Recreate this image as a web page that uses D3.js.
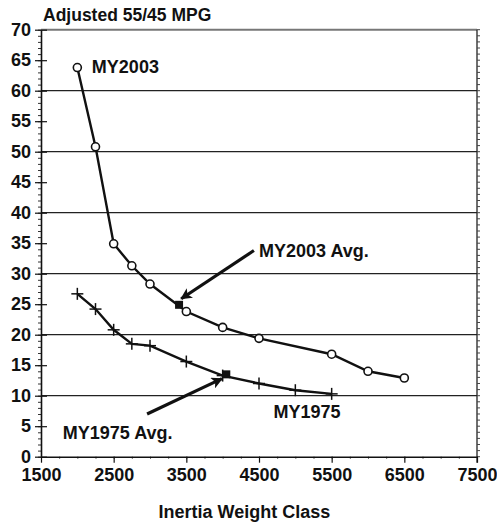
<!DOCTYPE html>
<html>
<head>
<meta charset="utf-8">
<script src="https://cdn.jsdelivr.net/npm/d3@7"></script>
<style>
  body { margin: 0; background: #fff; }
  text { font-family: "Liberation Sans", Arial, sans-serif; font-weight: bold; fill: #111; }
</style>
</head>
<body>
<div class="chart"></div>
<script>
// data
var weights2003 = [2000, 2250, 2500, 2750, 3000, 3500, 4000, 4500, 5500, 6000, 6500];
var mpg2003 = [63.8, 50.8, 34.9, 31.3, 28.3, 23.8, 21.2, 19.4, 16.8, 14.0, 12.9];
var weights1975 = [2000, 2250, 2500, 2750, 3000, 3500, 4000, 4500, 5000, 5500];
var mpg1975 = [26.7, 24.2, 20.8, 18.5, 18.2, 15.6, 13.3, 12.0, 10.9, 10.3];
var avg2003 = [3400, 24.9];
var avg1975 = [4050, 13.5];
var xTicks = [1500, 2500, 3500, 4500, 5500, 6500, 7500];
var yTicks = [0, 5, 10, 15, 20, 25, 30, 35, 40, 45, 50, 55, 60, 65, 70];
var gridValues = [10, 20, 30, 40, 50, 60];

var margin = {top: 29.7, right: 20, bottom: 66.3, left: 41},
    width = 497 - margin.left - margin.right,
    height = 523 - margin.top - margin.bottom;

var x = d3.scaleLinear().domain([1500, 7500]).range([0, width]);
var y = d3.scaleLinear().domain([0, 70]).range([height, 0]);

var svg = d3.select(".chart").append("svg")
    .attr("width", 497)
    .attr("height", 523)
    .append("g")
    .attr("transform", "translate(" + margin.left + "," + margin.top + ")");

// arrow head
svg.append("defs").append("marker")
    .attr("id", "head")
    .attr("viewBox", "0 0 10 10")
    .attr("refX", 9).attr("refY", 5)
    .attr("markerWidth", 4.2).attr("markerHeight", 3.6)
    .attr("markerUnits", "strokeWidth")
    .attr("orient", "auto")
    .append("path")
    .attr("d", "M0,0 L10,5 L0,10 L2.5,5 Z")
    .attr("fill", "#111");

// gridlines
svg.selectAll(".grid").data(gridValues).enter().append("line")
    .attr("x1", 0).attr("x2", width)
    .attr("y1", function(d){ return y(d); })
    .attr("y2", function(d){ return y(d); })
    .attr("stroke", "#222").attr("stroke-width", 1.3);

// top border
svg.append("line")
    .attr("x1", 0).attr("x2", width)
    .attr("y1", y(70)).attr("y2", y(70))
    .attr("stroke", "#777").attr("stroke-width", 2);

// right border with minor ticks
svg.append("line")
    .attr("x1", width).attr("x2", width)
    .attr("y1", 0).attr("y2", height + 6)
    .attr("stroke", "#222").attr("stroke-width", 1.3);
svg.selectAll(".rtick").data(d3.range(0, 71, 1)).enter().append("line")
    .attr("x1", width).attr("x2", width + 3)
    .attr("y1", function(d){ return y(d); })
    .attr("y2", function(d){ return y(d); })
    .attr("stroke", "#444").attr("stroke-width", 1);

// Y axis: minor ticks then major
svg.append("g")
    .call(d3.axisLeft(y).tickValues(d3.range(0, 71, 1)).tickSize(3).tickFormat(""))
    .call(function(g){ g.select(".domain").remove(); })
    .selectAll("line").attr("stroke", "#333");
var yAxis = svg.append("g")
    .call(d3.axisLeft(y).tickValues(yTicks).tickSizeInner(6).tickSizeOuter(0).tickPadding(8));
yAxis.select(".domain").attr("stroke", "#111").attr("stroke-width", 1.6);
yAxis.selectAll(".tick line").attr("x2", 6).attr("x1", -6).attr("stroke", "#111").attr("stroke-width", 1.2);
yAxis.selectAll("text")
    .style("font-size", "18px").style("font-weight", "bold")
    .style("font-family", "'Liberation Sans', Arial, sans-serif")
    .attr("x", -10);

// X axis
svg.append("g")
    .attr("transform", "translate(0," + height + ")")
    .call(d3.axisBottom(x).tickValues(d3.range(1500, 7501, 250)).tickSize(2).tickFormat(""))
    .call(function(g){ g.select(".domain").remove(); })
    .selectAll("line").attr("stroke", "#333");
var xAxis = svg.append("g")
    .attr("transform", "translate(0," + height + ")")
    .call(d3.axisBottom(x).tickValues(xTicks).tickFormat(d3.format("d"))
        .tickSizeInner(6).tickSizeOuter(0).tickPadding(6));
xAxis.select(".domain").attr("stroke", "#111").attr("stroke-width", 1.6);
xAxis.selectAll(".tick line").attr("stroke", "#111").attr("stroke-width", 1.2);
xAxis.selectAll("text")
    .style("font-size", "18px").style("font-weight", "bold")
    .style("font-family", "'Liberation Sans', Arial, sans-serif");

// axis titles
svg.append("text")
    .text("Adjusted 55/45 MPG")
    .attr("x", 2).attr("y", -9)
    .style("font-size", "17.5px");
svg.append("text")
    .text("Inertia Weight Class")
    .attr("text-anchor", "middle")
    .attr("x", x(4300)).attr("y", height + 61)
    .style("font-size", "18px");

// series lines
var line = d3.line()
    .x(function(d){ return x(d[0]); })
    .y(function(d){ return y(d[1]); });
var pts2003 = weights2003.map(function(w, i){ return [w, mpg2003[i]]; });
var pts1975 = weights1975.map(function(w, i){ return [w, mpg1975[i]]; });

svg.append("path").attr("d", line(pts2003))
    .attr("fill", "none").attr("stroke", "#111").attr("stroke-width", 2.4);
svg.append("path").attr("d", line(pts1975))
    .attr("fill", "none").attr("stroke", "#111").attr("stroke-width", 2.4);

// circle markers
svg.selectAll(".c2003").data(pts2003).enter().append("circle")
    .attr("cx", function(d){ return x(d[0]); })
    .attr("cy", function(d){ return y(d[1]); })
    .attr("r", 4)
    .attr("fill", "#fff").attr("stroke", "#111").attr("stroke-width", 1.6);

// plus markers
var plus = svg.selectAll(".p1975").data(pts1975).enter().append("g")
    .attr("transform", function(d){ return "translate(" + x(d[0]) + "," + y(d[1]) + ")"; });
plus.append("line").attr("x1", -6).attr("x2", 6).attr("stroke", "#111").attr("stroke-width", 1.5);
plus.append("line").attr("y1", -6).attr("y2", 6).attr("stroke", "#111").attr("stroke-width", 1.5);

// average squares
svg.selectAll(".avg").data([avg2003, avg1975]).enter().append("rect")
    .attr("x", function(d){ return x(d[0]) - 4; })
    .attr("y", function(d){ return y(d[1]) - 4; })
    .attr("width", 8).attr("height", 8)
    .attr("fill", "#111");

// arrows
var arrows = [
  {from: [4430, 33.8], to: [3430, 25.9]},
  {from: [2960, 7.0], to: [3990, 12.8]}
];
svg.selectAll(".arrow").data(arrows).enter().append("line")
    .attr("x1", function(d){ return x(d.from[0]); })
    .attr("y1", function(d){ return y(d.from[1]); })
    .attr("x2", function(d){ return x(d.to[0]); })
    .attr("y2", function(d){ return y(d.to[1]); })
    .attr("stroke", "#111").attr("stroke-width", 3.2)
    .attr("marker-end", "url(#head)");

// labels
var labels = [
  {text: "MY2003", at: [2200, 63.9]},
  {text: "MY2003 Avg.", at: [4500, 33.8]},
  {text: "MY1975", at: [4700, 7.3]},
  {text: "MY1975 Avg.", at: [1800, 4.0]}
];
svg.selectAll(".lbl").data(labels).enter().append("text")
    .text(function(d){ return d.text; })
    .attr("x", function(d){ return x(d.at[0]); })
    .attr("y", function(d){ return y(d.at[1]); })
    .attr("dy", "0.35em")
    .style("font-size", "18px");
</script>
</body>
</html>
